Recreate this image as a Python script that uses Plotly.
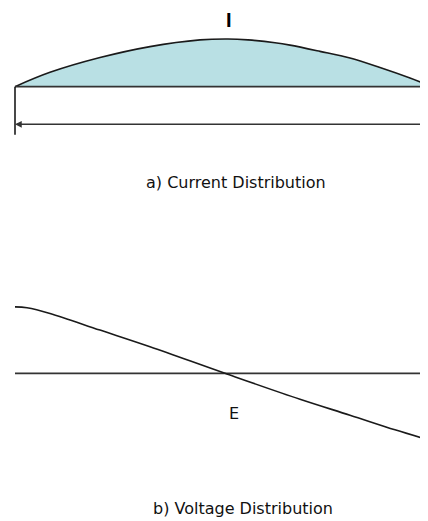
import plotly.graph_objects as go

# distance along the line (left end = 0)
dist_i = [0, 35, 85, 135, 185, 213, 233, 260, 275, 305, 335, 365, 395, 413]
# current, relative to its peak
current = [0.0, 0.30, 0.61, 0.84, 0.98, 1.0, 0.98, 0.92, 0.87, 0.74, 0.60, 0.40, 0.18, 0.035]

dist_v = [0, 12, 35, 85, 135, 210, 285, 335, 380, 413]
# voltage, relative to its peak
voltage = [1.0, 0.985, 0.90, 0.65, 0.40, 0.0, -0.39, -0.63, -0.85, -1.0]

line_len = [0, 413]

ink = '#1a1a1a'
axis_ink = '#333333'

fig = go.Figure()

# current (top)
fig.add_trace(go.Scatter(x=dist_i, y=current, mode='lines', line=dict(color=ink, width=1.6, shape='spline'),
                         fill='tozeroy', fillcolor='#b9e0e4', yaxis='y', hoverinfo='skip'))
fig.add_trace(go.Scatter(x=line_len, y=[0, 0], mode='lines', line=dict(color=axis_ink, width=1.6), yaxis='y', hoverinfo='skip'))
fig.add_trace(go.Scatter(x=[0, 0], y=[0, -1.01], mode='lines', line=dict(color=ink, width=1.6), yaxis='y', hoverinfo='skip'))

# voltage (bottom)
fig.add_trace(go.Scatter(x=line_len, y=[0, 0], mode='lines', line=dict(color=axis_ink, width=1.8), yaxis='y2', hoverinfo='skip'))
fig.add_trace(go.Scatter(x=dist_v, y=voltage, mode='lines', line=dict(color=ink, width=1.6, shape='spline'),
                         yaxis='y2', hoverinfo='skip'))

lbl = dict(family='DejaVu Sans', size=16, color='#111111')

fig.add_annotation(x=0, y=-0.79, ax=413, ay=-0.79, xref='x', yref='y', axref='x', ayref='y',
                   text='', showarrow=True, arrowhead=2, arrowsize=0.9, arrowwidth=1.5, arrowcolor=axis_ink)
fig.add_annotation(x=214, y=1.40, xref='x', yref='y', text='<b>I</b>', showarrow=False,
                   font=dict(family='Liberation Sans', size=20, color='#000000'))
fig.add_annotation(x=220.5, y=-2.01, xref='x', yref='y', text='a) Current Distribution', showarrow=False, font=lbl)
fig.add_annotation(x=219, y=-0.60, xref='x', yref='y2', text='E', showarrow=False, font=lbl)
fig.add_annotation(x=228, y=-2.03, xref='x', yref='y2', text='b) Voltage Distribution', showarrow=False, font=lbl)

hidden = dict(visible=False, showgrid=False, zeroline=False, fixedrange=True)
# ranges allow for the 8px page margin round the figure
fig.update_layout(
    width=428, height=521,
    margin=dict(l=0, r=0, t=0, b=0),
    paper_bgcolor='white', plot_bgcolor='white',
    showlegend=False,
    xaxis=dict(range=[-7, 421], **hidden),
    yaxis=dict(range=[-9.273, 1.649], **hidden),
    yaxis2=dict(range=[-2.341, 5.494], overlaying='y', **hidden),
)

fig.write_html("out.html")
